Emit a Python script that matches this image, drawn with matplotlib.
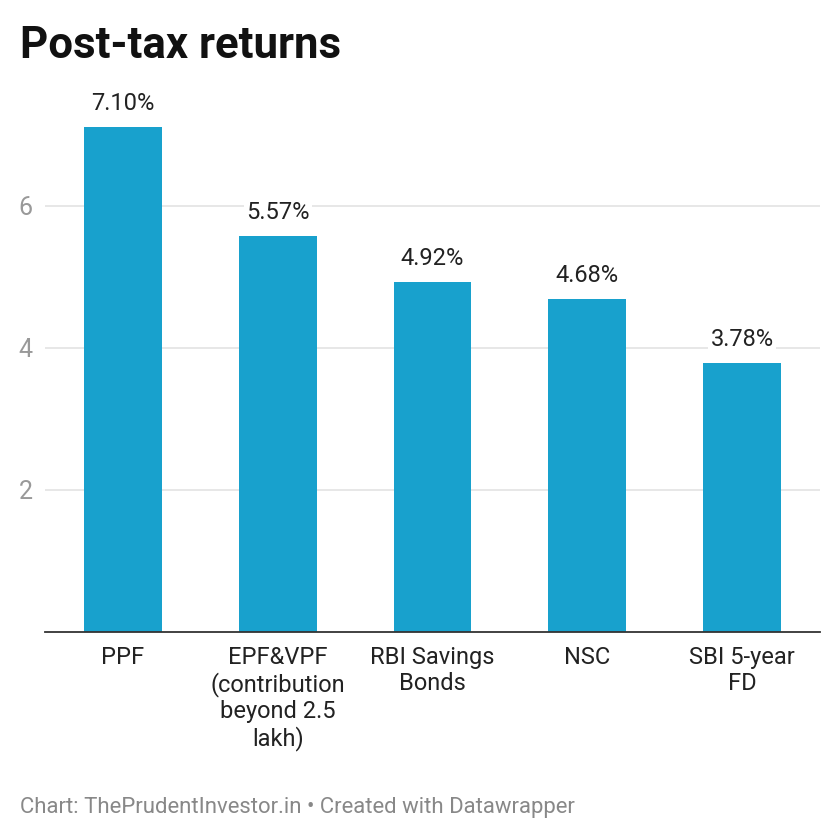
import matplotlib.pyplot as plt

plt.rcParams["font.family"] = ["Roboto", "DejaVu Sans"]

categories = [
    "PPF",
    "EPF&VPF\n(contribution\nbeyond 2.5\nlakh)",
    "RBI Savings\nBonds",
    "NSC",
    "SBI 5-year\nFD",
]
returns = [7.10, 5.57, 4.92, 4.68, 3.78]
y_ticks = [2, 4, 6]

bar_color = "#18a1cd"

fig = plt.figure(figsize=(8.4, 8.4), dpi=100)
# axes box in pixels: left 45, right 820, bottom y=632, top y=99
ax = fig.add_axes([45 / 840, (840 - 632) / 840, 775 / 840, 533 / 840])

x = list(range(len(categories)))
ax.bar(x, returns, width=0.503, color=bar_color, zorder=2)
ax.set_xlim(-0.503, len(categories) - 1 + 0.503)
ax.set_ylim(0, 7.5)

for xi, v in zip(x, returns):
    ax.annotate(f"{v:.2f}%", (xi, v), xytext=(0, 9), textcoords="offset points",
                ha="center", va="bottom", fontsize=17, color="#222222", zorder=4,
                bbox=dict(boxstyle="square,pad=0.1", fc="white", ec="none"))

ax.set_yticks(y_ticks)
ax.set_yticklabels([str(t) for t in y_ticks], fontsize=18, color="#999999")
ax.tick_params(axis="y", length=0, pad=9)
ax.grid(axis="y", color="#e3e3e3", linewidth=1.2, zorder=0)

ax.set_xticks(x)
ax.set_xticklabels(categories, fontsize=17, color="#222222", linespacing=1.17)
ax.tick_params(axis="x", length=0, pad=10)

for side in ["top", "right", "left"]:
    ax.spines[side].set_visible(False)
ax.spines["bottom"].set_color("#333333")
ax.spines["bottom"].set_linewidth(1.3)
ax.spines["bottom"].set_zorder(3)

fig.text(20 / 840, 1 - 46 / 840, "Post-tax returns", fontsize=31.5, fontweight="bold",
         color="#111111", ha="left", va="center")
fig.text(20 / 840, 1 - 807 / 840,
         "Chart: ThePrudentInvestor.in \u2022 Created with Datawrapper",
         fontsize=15.9, color="#888888", ha="left", va="center")

fig.savefig("out.png", dpi=100, facecolor="white")
